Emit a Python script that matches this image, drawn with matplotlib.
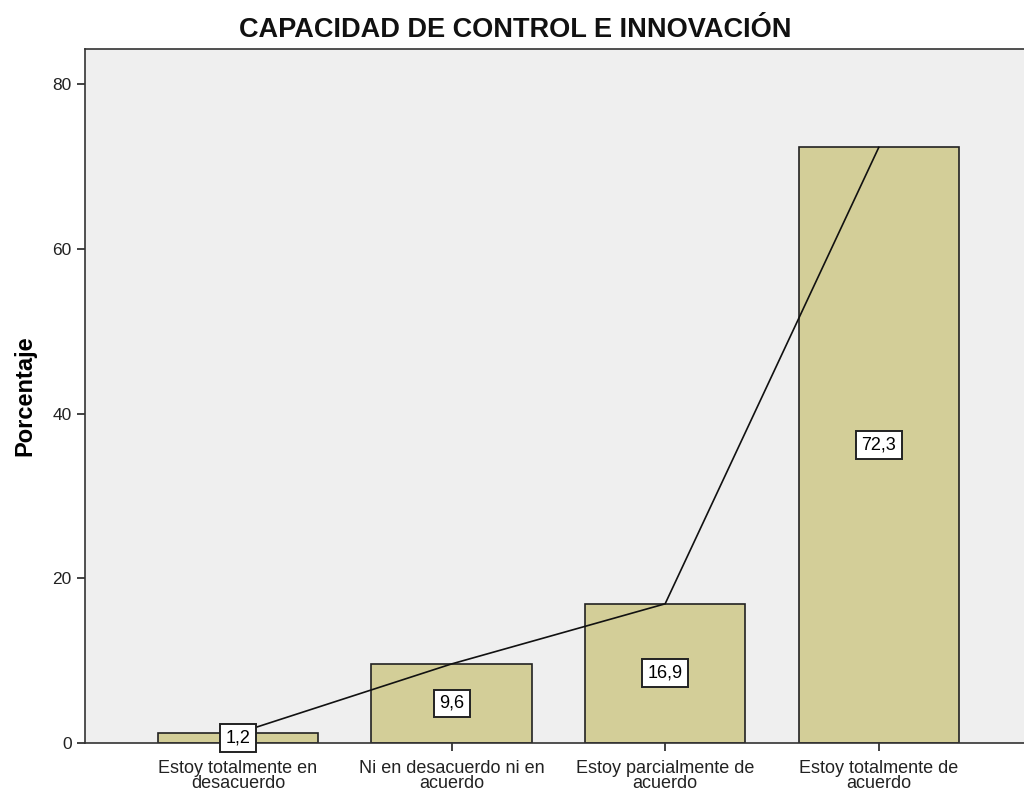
import matplotlib.pyplot as plt

# Datos
categorias = ["Estoy totalmente en\ndesacuerdo", "Ni en desacuerdo ni en\nacuerdo",
              "Estoy parcialmente de\nacuerdo", "Estoy totalmente de\nacuerdo"]
porcentajes = [1.2, 9.6, 16.9, 72.3]
etiquetas = ["1,2", "9,6", "16,9", "72,3"]
ticks_y = [0, 20, 40, 60, 80]

plt.rcParams['font.family'] = ['Liberation Sans', 'DejaVu Sans']

fig = plt.figure(figsize=(10.24, 7.94), dpi=100)
ax = fig.add_axes([0.083, 0.0642, 0.917, 0.8741])
ax.set_facecolor('#efefef')

x = list(range(len(categorias)))
ax.bar(x, porcentajes, width=0.75, color='#d3ce98', edgecolor='#222222', linewidth=1.2, zorder=2)
ax.plot(x, porcentajes, color='#111111', linewidth=1.2, zorder=3)

for xi, v, t in zip(x, porcentajes, etiquetas):
    ax.text(xi, v / 2, t, ha='center', va='center', fontsize=13, zorder=4,
            bbox=dict(boxstyle='square,pad=0.3', facecolor='white', edgecolor='#222222', linewidth=1.4))

ax.set_xlim(-0.716, 3.68)
ax.set_ylim(0, 84.25)
ax.set_yticks(ticks_y)
ax.set_yticklabels([str(t) for t in ticks_y], fontsize=12.5, color='#222222')
ax.set_xticks(x)
ax.set_xticklabels(categorias, fontsize=13, color='#222222', linespacing=0.85)
ax.tick_params(axis='both', direction='out', length=6, width=1.2, color='#222222')
ax.tick_params(axis='x', pad=6)

for lado in ['left', 'bottom', 'top']:
    ax.spines[lado].set_color('#333333')
    ax.spines[lado].set_linewidth(1.2)
ax.spines['right'].set_visible(False)

ax.set_ylabel('Porcentaje', fontsize=17, fontweight='bold', labelpad=12)
fig.text(0.503, 0.962, 'CAPACIDAD DE CONTROL E INNOVACIÓN', ha='center', va='center',
         fontsize=19.5, fontweight='bold', color='#111111')

fig.savefig('out.png', dpi=100)
